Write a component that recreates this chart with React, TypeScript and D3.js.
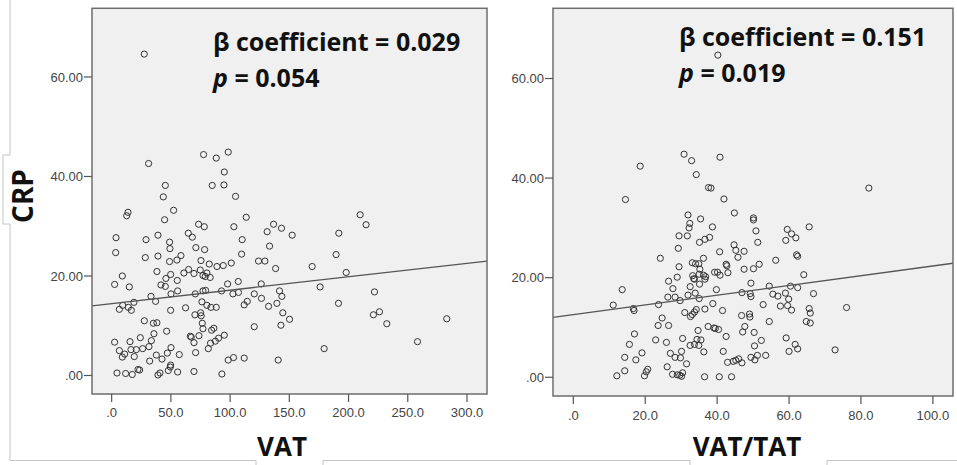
import React from "react";
import * as d3 from "d3";

// ---------- DATA ----------
// Left panel: VAT (x) vs CRP (y)
const vatPoints: [number, number][] = [
  [27.5, 64.6], [31.2, 42.6], [77.6, 44.4], [88.3, 43.7], [98.4, 44.9], [95.1, 40.9], [84.9, 38.2], [94.8, 38.3],
  [45.3, 38.2], [43.6, 35.9], [104.6, 36.0], [52.3, 33.2], [13.8, 32.8], [12.7, 32.1], [44.7, 31.3], [113.6, 31.8],
  [73.4, 30.4], [78.2, 29.9], [103.2, 29.9], [136.7, 30.4], [143.4, 29.6], [131.3, 28.9], [152.4, 28.2], [209.8, 32.3],
  [214.8, 30.3], [191.8, 28.6], [3.7, 27.7], [29.0, 27.3], [39.1, 28.2], [64.7, 28.6], [68.1, 27.8], [110.2, 27.3],
  [48.9, 26.8], [49.2, 25.5], [71.1, 25.7], [78.5, 25.3], [133.3, 26.0], [3.4, 24.7], [28.4, 23.7], [39.1, 24.0],
  [58.5, 24.1], [55.1, 23.2], [48.9, 22.9], [75.4, 23.1], [82.4, 22.4], [88.9, 21.9], [94.2, 22.1], [101.0, 22.6],
  [109.7, 24.4], [124.0, 23.0], [129.4, 23.0], [138.4, 21.5], [189.5, 24.3], [169.3, 21.9], [198.0, 20.7], [38.2, 20.9],
  [49.8, 20.3], [61.0, 20.6], [65.0, 21.3], [69.5, 20.5], [74.8, 21.2], [77.1, 20.1], [80.4, 20.6], [79.0, 19.9],
  [83.2, 19.7], [9.0, 20.0], [2.5, 18.3], [14.9, 17.8], [45.8, 19.5], [55.4, 19.1], [41.6, 18.2], [45.3, 17.9],
  [97.9, 18.4], [106.9, 18.9], [126.3, 18.4], [176.0, 17.8], [55.7, 17.0], [50.1, 16.4], [70.6, 16.4], [77.1, 17.0],
  [79.3, 17.1], [92.8, 17.0], [102.4, 16.4], [107.1, 16.7], [120.4, 16.4], [141.7, 17.0], [143.7, 15.9], [126.5, 15.5],
  [221.9, 16.8], [33.2, 15.9], [37.1, 14.9], [18.8, 14.7], [9.3, 14.1], [6.5, 13.3], [14.1, 13.7], [16.6, 13.1],
  [49.8, 13.1], [62.4, 13.6], [76.2, 14.8], [80.4, 14.1], [83.8, 13.7], [88.3, 13.7], [111.9, 14.2], [114.5, 14.9],
  [132.5, 13.9], [139.5, 14.5], [191.5, 14.5], [144.5, 12.6], [150.2, 11.3], [142.9, 10.1], [120.4, 9.8], [221.0, 12.2],
  [226.1, 12.8], [232.3, 10.4], [282.9, 11.4], [27.6, 11.0], [35.2, 10.5], [38.2, 10.6], [70.3, 12.2], [75.1, 12.6],
  [75.6, 12.0], [76.5, 10.5], [77.1, 9.4], [86.3, 9.5], [84.4, 9.1], [46.4, 8.9], [35.7, 8.4], [24.2, 7.6],
  [33.5, 7.0], [15.5, 6.8], [2.5, 6.7], [6.5, 5.0], [11.0, 4.3], [9.0, 3.7], [16.3, 5.2], [19.1, 3.8],
  [20.8, 5.2], [26.2, 5.4], [31.5, 5.8], [37.7, 4.1], [42.5, 3.3], [32.1, 2.9], [47.0, 4.5], [50.1, 5.6],
  [57.1, 4.2], [66.4, 7.9], [67.2, 7.7], [73.7, 8.0], [69.5, 6.6], [70.9, 4.6], [81.6, 5.4], [83.5, 6.5],
  [87.5, 6.9], [90.3, 7.5], [95.1, 8.1], [98.4, 3.1], [102.9, 3.6], [111.9, 3.5], [140.6, 3.1], [179.4, 5.4],
  [258.2, 6.8], [4.5, 0.5], [11.8, 0.4], [17.4, 0.2], [22.2, 1.2], [23.6, 1.1], [39.1, 0.1], [40.8, 0.5],
  [47.8, 1.0], [49.8, 2.1], [49.5, 1.7], [55.7, 0.7], [69.5, 0.8], [93.1, 0.3],
];

// Right panel: VAT/TAT (x) vs CRP (y)
const ratioPoints: [number, number][] = [
  [40.2, 64.7], [18.6, 42.4], [30.8, 44.8], [32.9, 43.5], [40.8, 44.2], [34.2, 40.7], [37.6, 38.1], [38.3, 38.0],
  [14.5, 35.7], [41.9, 35.8], [82.2, 38.0], [44.8, 33.0], [31.9, 32.6], [35.4, 31.8], [50.1, 32.0], [50.1, 31.6],
  [32.4, 30.9], [32.2, 30.0], [38.7, 30.2], [50.8, 29.4], [59.5, 29.7], [60.7, 28.8], [61.9, 28.0], [65.6, 30.2],
  [59.1, 27.5], [29.4, 28.4], [31.7, 28.4], [35.1, 27.1], [36.6, 27.7], [37.9, 28.1], [51.3, 27.1], [29.2, 25.9],
  [44.7, 26.6], [45.2, 25.5], [47.5, 25.3], [45.8, 24.1], [40.7, 25.2], [62.1, 24.6], [62.4, 24.3], [24.2, 23.9],
  [36.2, 23.9], [33.1, 23.0], [34.0, 22.8], [34.9, 22.8], [29.4, 22.2], [35.2, 21.7], [42.5, 22.7], [42.7, 22.4],
  [47.5, 21.7], [50.1, 21.8], [51.7, 22.7], [56.3, 23.5], [28.9, 20.1], [33.2, 20.4], [33.5, 19.8], [33.7, 19.7],
  [35.0, 20.7], [36.2, 20.5], [36.6, 19.7], [36.8, 20.2], [35.1, 18.7], [39.3, 21.1], [40.1, 21.1], [40.8, 20.5],
  [43.0, 21.0], [26.5, 19.3], [27.7, 17.8], [26.3, 16.1], [28.3, 16.1], [29.7, 15.4], [31.9, 16.5], [32.5, 18.2],
  [33.9, 16.9], [35.0, 15.8], [39.8, 17.6], [49.4, 18.9], [46.9, 17.0], [49.2, 16.8], [49.4, 16.2], [54.5, 18.3],
  [55.5, 16.7], [56.9, 16.3], [59.0, 16.9], [60.4, 18.3], [62.4, 18.0], [64.1, 20.6], [66.8, 16.8], [59.9, 15.7],
  [57.6, 14.3], [59.6, 14.4], [60.7, 13.5], [52.8, 14.6], [13.6, 17.6], [11.1, 14.5], [16.7, 13.8], [16.9, 13.4],
  [23.7, 14.6], [38.8, 14.8], [36.6, 13.7], [41.5, 13.4], [31.0, 13.0], [33.1, 12.6], [32.6, 12.2], [33.7, 13.1],
  [34.2, 13.6], [24.7, 11.9], [23.6, 10.4], [26.5, 10.4], [46.8, 12.4], [49.0, 12.7], [49.1, 12.1], [54.5, 11.2],
  [65.6, 13.8], [65.9, 12.9], [64.8, 11.2], [65.9, 10.9], [76.0, 14.0], [37.5, 10.2], [39.1, 9.9], [39.5, 9.8],
  [40.4, 9.6], [47.7, 10.2], [47.1, 9.1], [50.3, 9.0], [34.7, 9.4], [42.5, 8.2], [17.0, 8.7], [15.6, 6.6],
  [22.9, 7.5], [25.9, 7.0], [30.4, 7.8], [32.5, 6.4], [33.7, 6.6], [34.4, 7.6], [34.9, 6.4], [35.5, 7.5],
  [36.3, 5.1], [41.7, 5.2], [52.3, 7.4], [50.4, 6.3], [59.2, 7.9], [61.7, 6.6], [62.4, 5.7], [60.0, 5.2],
  [72.8, 5.5], [19.1, 4.9], [14.3, 4.0], [17.4, 3.5], [27.0, 4.8], [28.3, 4.0], [30.1, 5.2], [29.8, 3.9],
  [31.5, 2.7], [42.9, 3.0], [44.5, 3.2], [45.2, 3.4], [46.0, 3.7], [46.9, 2.9], [49.4, 4.0], [50.5, 3.5],
  [51.2, 4.4], [53.5, 4.4], [14.3, 1.3], [12.1, 0.3], [19.8, 0.3], [20.3, 1.1], [20.7, 1.6], [26.1, 2.1],
  [27.6, 0.6], [28.9, 0.5], [29.6, 0.4], [30.1, 0.2], [30.4, 0.9], [36.5, 0.1], [40.6, 0.1], [44.0, 0.1],
];

const yTicks = [0, 20, 40, 60];
const yTickLabels = [".00", "20.00", "40.00", "60.00"];
const vatTicks = [0, 50, 100, 150, 200, 250, 300];
const vatTickLabels = [".0", "50.0", "100.0", "150.0", "200.0", "250.0", "300.0"];
const ratioTicks = [0, 20, 40, 60, 80, 100];
const ratioTickLabels = [".0", "20.0", "40.0", "60.0", "80.0", "100.0"];

// fit lines (intercept, slope)
const vatFit = { intercept: 14.45, slope: 0.027 };
const ratioFit = { intercept: 12.6, slope: 0.0975 };

const vatStats = ["β coefficient = 0.029", "0.054"];
const ratioStats = ["β coefficient = 0.151", "0.019"];

// ---------- COMPONENTS ----------
type PanelProps = {
  points: [number, number][];
  xDomain: [number, number];
  yDomain: [number, number];
  xRange: [number, number];
  yRange: [number, number];
  xTicks: number[];
  xTickLabels: string[];
  fit: { intercept: number; slope: number };
  stats: string[];
  statsX: number;
  statsY: number;
  xLabel: string;
  xLabelX: number;
  xTickBaseline: number;
};

const tickFont = "'Liberation Sans', Arial, sans-serif";
const boldFont = "'Open Sans', 'Noto Sans', sans-serif";

function Panel(p: PanelProps) {
  const x = d3.scaleLinear().domain(p.xDomain).range(p.xRange);
  const y = d3.scaleLinear().domain(p.yDomain).range(p.yRange);
  const [x0, x1] = p.xDomain;
  const line = d3
    .line<number>()
    .x((d) => x(d))
    .y((d) => y(p.fit.intercept + p.fit.slope * d));
  const left = p.xRange[0];
  const right = p.xRange[1];
  const top = p.yRange[1];
  const bottom = p.yRange[0];
  return (
    <g>
      <rect x={left} y={top} width={right - left} height={bottom - top} fill="#f0f0f0" stroke="none" />
      {p.points.map((d, i) => (
        <circle key={i} cx={x(d[0])} cy={y(d[1])} r={3.1} fill="none" stroke="#333" strokeWidth={1} />
      ))}
      <path d={line([x0, x1]) || ""} fill="none" stroke="#555" strokeWidth={1.3} />
      <rect x={left} y={top} width={right - left} height={bottom - top} fill="none" stroke="#6e6e6e" strokeWidth={1.5} />
      {yTicks.map((t, i) => (
        <g key={"y" + i}>
          <line x1={left - 8} x2={left} y1={y(t)} y2={y(t)} stroke="#555" strokeWidth={1.2} />
          <text x={left - 9} y={y(t)} dy="0.36em" textAnchor="end" fontFamily={tickFont} fontSize={13} fill="#444">
            {yTickLabels[i]}
          </text>
        </g>
      ))}
      {p.xTicks.map((t, i) => (
        <g key={"x" + i}>
          <line x1={x(t)} x2={x(t)} y1={bottom} y2={bottom + 8} stroke="#555" strokeWidth={1.2} />
          <text x={x(t)} y={p.xTickBaseline} textAnchor="middle" fontFamily={tickFont} fontSize={13} fill="#444">
            {p.xTickLabels[i]}
          </text>
        </g>
      ))}
      <text x={p.statsX} y={p.statsY} fontFamily={boldFont} fontWeight={700} fontSize={25} fill="#111">
        {p.stats[0]}
      </text>
      <text x={p.statsX} y={p.statsY + 36} fontFamily={boldFont} fontWeight={700} fontSize={25} fill="#111">
        <tspan fontStyle="italic">p</tspan>
        {" = " + p.stats[1]}
      </text>
      <text x={p.xLabelX} y={456} textAnchor="middle" fontFamily={boldFont} fontWeight={700} fontSize={26} fill="#111">
        {p.xLabel}
      </text>
    </g>
  );
}

export default function App() {
  return (
    <svg width={957} height={465} style={{ position: "absolute", left: 0, top: 0, background: "#fff" }}>
      {/* surrounding light boxes */}
      <path
        d="M10,0 V155 H3 V224 H10 V460.5 H256 V465 M323,465 V460.5 H690 V465 M827,465 V460.5 H957"
        fill="none"
        stroke="#c4c4c4"
        strokeWidth={1}
      />
      <text
        transform="translate(33,196) rotate(-90)"
        textAnchor="middle"
        fontFamily={boldFont}
        fontWeight={700}
        fontSize={28}
        fill="#111"
      >
        CRP
      </text>
      <Panel
        points={vatPoints}
        xDomain={[-16.6, 316.9]}
        yDomain={[-3.72, 73.8]}
        xRange={[92, 487]}
        yRange={[394, 8.3]}
        xTicks={vatTicks}
        xTickLabels={vatTickLabels}
        fit={vatFit}
        stats={vatStats}
        statsX={213}
        statsY={50.5}
        xLabel="VAT"
        xLabelX={282}
        xTickBaseline={417}
      />
      <Panel
        points={ratioPoints}
        xDomain={[-5.65, 105.6]}
        yDomain={[-3.76, 74.1]}
        xRange={[553, 953]}
        yRange={[396, 8.3]}
        xTicks={ratioTicks}
        xTickLabels={ratioTickLabels}
        fit={ratioFit}
        stats={ratioStats}
        statsX={679}
        statsY={45.5}
        xLabel="VAT/TAT"
        xLabelX={747}
        xTickBaseline={420}
      />
    </svg>
  );
}
